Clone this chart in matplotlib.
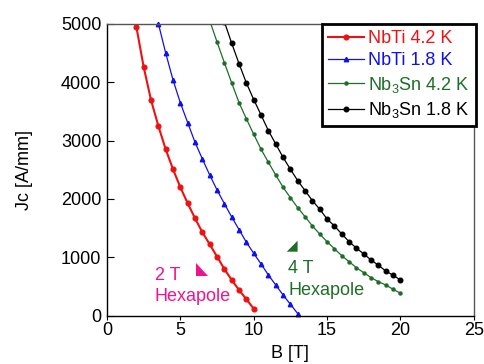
import matplotlib
matplotlib.use("Agg")
import matplotlib.pyplot as plt
from matplotlib.patches import Polygon

plt.rcParams["font.family"] = ["Liberation Sans", "DejaVu Sans"]
plt.rcParams["mathtext.fontset"] = "custom"
plt.rcParams["mathtext.rm"] = "Liberation Sans"
plt.rcParams["mathtext.it"] = "Liberation Sans"

# NbTi 4.2 K
b_nbti42 = [2, 2.5, 3, 3.5, 4, 4.5, 5, 5.5, 6, 6.5, 7, 7.5, 8, 8.5, 9, 9.5, 10]
jc_nbti42 = [4945, 4256, 3692, 3248, 2850, 2508, 2200, 1926, 1670, 1430,
             1225, 1014, 803, 615, 444, 285, 125]

# NbTi 1.8 K
b_nbti18 = [3.5, 4, 4.5, 5, 5.5, 6, 6.5, 7, 7.5, 8, 8.5, 9, 9.5, 10,
            10.5, 11, 11.5, 12, 12.5, 13]
jc_nbti18 = [5000, 4496, 4034, 3644, 3304, 2969, 2684, 2410, 2154, 1920,
             1692, 1476, 1260, 1071, 889, 700, 530, 359, 200, 40]

# Nb3Sn 4.2 K
b_nb3sn42 = [7, 7.5, 8, 8.5, 9, 9.5, 10, 10.5, 11, 11.5, 12, 12.5, 13, 13.5,
             14, 14.5, 15, 15.5, 16, 16.5, 17, 17.5, 18, 18.5, 19, 19.5, 20]
jc_nb3sn42 = [5050, 4684, 4330, 3983, 3646, 3370, 3106, 2850, 2627, 2410,
              2200, 2022, 1850, 1697, 1538, 1400, 1270, 1150, 1031, 928,
              826, 740, 655, 586, 530, 456, 388]

# Nb3Sn 1.8 K
b_nb3sn18 = [8, 8.5, 9, 9.5, 10, 10.5, 11, 11.5, 12, 12.5, 13, 13.5, 14,
             14.5, 15, 15.5, 16, 16.5, 17, 17.5, 18, 18.5, 19, 19.5, 20]
jc_nb3sn18 = [5030, 4661, 4312, 3983, 3700, 3436, 3168, 2940, 2712, 2508,
              2313, 2142, 1971, 1824, 1658, 1538, 1402, 1270, 1160, 1060,
              957, 866, 769, 696, 615]

red = "#ee1111"
blue = "#1010ee"
green = "#1e6e28"
pink = "#f0148c"
FS = 13

fig = plt.figure(figsize=(4.85, 3.64), dpi=100)
ax = fig.add_axes([0.2206, 0.1319, 0.7564, 0.8035])

ax.plot(b_nbti42, jc_nbti42, color=red, lw=1.5, marker="o", ms=3.4,
        label="NbTi 4.2 K", clip_on=False)
ax.plot(b_nbti18, jc_nbti18, color=blue, lw=0.9, marker="^", ms=3.2,
        label="NbTi 1.8 K", clip_on=False)
ax.plot(b_nb3sn42, jc_nb3sn42, color=green, lw=0.9, marker="o", ms=2.2,
        label="Nb$_3$Sn 4.2 K")
ax.plot(b_nb3sn18, jc_nb3sn18, color="black", lw=0.9, marker="o", ms=3.3,
        label="Nb$_3$Sn 1.8 K")

ax.set_xlim(0, 25)
ax.set_ylim(0, 5000)
ax.set_xticks([0, 5, 10, 15, 20, 25])
ax.set_yticks([0, 1000, 2000, 3000, 4000, 5000])
ax.tick_params(axis="y", direction="in", length=5, labelsize=FS, pad=4)
ax.tick_params(axis="x", direction="out", length=3, labelsize=FS, pad=1)
for s in ax.spines.values():
    s.set_linewidth(1.0)
ax.spines["top"].set_color("#555555")
ax.spines["right"].set_color("#555555")

ax.set_xlabel("B [T]", fontsize=FS, labelpad=5)
ax.set_ylabel("Jc [A/mm]", fontsize=FS, labelpad=20)

# hexapole annotations
ax.add_patch(Polygon([(6.07, 906), (6.07, 684), (6.88, 684)], closed=True,
                     color=pink, lw=0))
ax.text(3.27, 700, "2 T", color=pink, fontsize=FS, ha="left", va="center")
ax.text(3.27, 330, "Hexapole", color=pink, fontsize=FS, ha="left", va="center")

ax.add_patch(Polygon([(12.99, 1287), (12.25, 1099), (12.99, 1099)], closed=True,
                     color=green, lw=0))
ax.text(12.36, 815, "4 T", color=green, fontsize=FS, ha="left", va="center")
ax.text(12.36, 444, "Hexapole", color=green, fontsize=FS, ha="left", va="center")

leg = ax.legend(loc="upper right", bbox_to_anchor=(1.005, 1.0), borderaxespad=0,
                fontsize=FS, frameon=True, fancybox=False, handlelength=2.0,
                handletextpad=0.2, labelspacing=0.3, borderpad=0.35)
leg.get_frame().set_edgecolor("black")
leg.get_frame().set_linewidth(2)
leg.get_frame().set_alpha(1)
for txt, c in zip(leg.get_texts(), [red, blue, green, "black"]):
    txt.set_color(c)

fig.savefig("out.png", dpi=100)
